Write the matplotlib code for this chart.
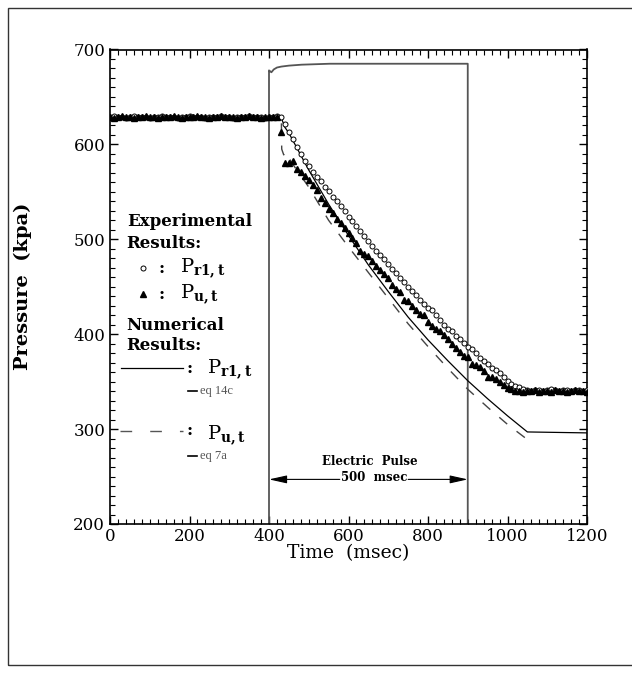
import numpy as np
import matplotlib
matplotlib.use("Agg")
import matplotlib.pyplot as plt
from matplotlib.ticker import MultipleLocator
from matplotlib.patches import Rectangle

plt.rcParams['font.family'] = ['DejaVu Serif']
plt.rcParams['mathtext.fontset'] = 'dejavuserif'

# ---------------- data ----------------
# experimental samples every 10 ms (0..1200)
t_exp = np.arange(0, 1201, 10)

p_r1_exp = ([629, 630, 629, 629, 628, 629, 630, 629, 629, 629, 628,
             629, 629, 630, 629, 629, 629, 628, 629, 629, 630, 629,
             629, 629, 628, 629, 629, 629, 630, 629, 629, 628, 629,
             629, 629, 630, 629, 629, 629, 628, 629, 629, 630, 629] +
            [622, 613, 606, 597, 590, 583, 577, 571, 566, 561, 555,
             551, 545, 540, 535, 530, 524, 519, 514, 509, 504, 498,
             493, 488, 483, 479, 474, 469, 465, 459, 455, 450, 446,
             441, 436, 432, 428, 425, 420, 415, 410, 405, 403, 398,
             395, 391, 387, 384, 380, 375, 372, 369, 364, 362, 359,
             355, 351, 348, 345, 344, 342] +
            [341, 340, 341, 341, 340, 341, 342, 341, 340, 341, 341,
             340, 341, 341, 340, 341])

p_u_exp = ([629, 628, 629, 630, 629, 629, 628, 629, 629, 630, 629,
            629, 628, 629, 629, 629, 630, 629, 628, 629, 629, 629,
            630, 629, 629, 628, 629, 629, 630, 629, 629, 629, 628,
            629, 629, 630, 629, 629, 628, 629, 629, 629, 629] +
           [613, 580, 580, 583, 574, 571, 567, 562, 557, 552, 544,
            538, 532, 528, 521, 517, 512, 507, 501, 496, 488, 485,
            482, 477, 472, 468, 463, 459, 452, 448, 444, 436, 435,
            430, 426, 421, 420, 413, 409, 405, 403, 399, 395, 390,
            385, 381, 377, 376, 369, 368, 365, 361, 355, 355, 353,
            350, 346, 343, 342, 340, 340] +
           [339, 340, 340, 341, 339, 340, 340, 339, 341, 340, 340,
            339, 340, 341, 340, 340, 339])

assert len(p_r1_exp) == len(t_exp)
assert len(p_u_exp) == len(t_exp)

# numerical results
t_r1_num = [0, 430, 440, 450, 500, 550, 600, 650, 700, 750, 800, 850,
            900, 950, 1000, 1050, 1200]
p_r1_num = [629, 629, 618, 612, 573, 537, 504, 473, 445, 418, 394, 372,
            351, 332, 314, 297, 296]

t_u_num = [0, 428, 431, 432, 437, 441, 446, 455, 500, 550, 600, 650, 700,
           750, 800, 850, 900, 950, 1000, 1050, 1052]
p_u_num = [629, 629, 629, 595, 589, 592, 591, 582, 555, 520, 492, 465,
           438, 411, 387, 364, 342, 323, 305, 289, 286]

# electric pulse trace
t_pulse = [400, 400, 403, 406, 412, 420, 431, 450, 482, 553, 900, 900]
p_pulse = [200, 678, 677, 676, 679, 681, 682, 683, 684, 685, 685, 200]

# ---------------- figure ----------------
fig = plt.figure(figsize=(6.32, 6.73), dpi=100)
ax = fig.add_axes([110/632, 1-524/673, 477/632, 474.5/673])

# outer frame
fig.patches.append(Rectangle((8/632, 1-665/673), 1.2, 657/673,
                             transform=fig.transFigure, fill=False,
                             edgecolor='#333333', lw=1.0))

ax.plot(t_pulse, p_pulse, color='#555555', lw=1.3, zorder=2)
ax.plot(t_r1_num, p_r1_num, color='black', lw=0.9, zorder=3)
ax.plot(t_u_num, p_u_num, color='#444444', lw=1.0, dashes=(7.5, 8.5), zorder=3)
ax.plot(t_exp, p_r1_exp, 'o', mfc='white', mec='black', ms=3.6, mew=0.7, zorder=4)
ax.plot(t_exp, p_u_exp, '^', color='black', ms=3.8, zorder=5)

ax.set_xlim(0, 1200)
ax.set_ylim(200, 700)
ax.xaxis.set_major_locator(MultipleLocator(200))
ax.xaxis.set_minor_locator(MultipleLocator(20))
ax.yaxis.set_major_locator(MultipleLocator(100))
ax.yaxis.set_minor_locator(MultipleLocator(10))
ax.tick_params(which='both', direction='in', top=True, right=True, labelsize=12)
ax.tick_params(axis='x', which='major', pad=3)
ax.tick_params(which='major', length=6, width=1)
ax.tick_params(which='minor', length=3.5, width=0.8)
for s in ax.spines.values():
    s.set_linewidth(1.2)

ax.set_xlabel('Time  (msec)', fontsize=13.5)
ax.xaxis.set_label_coords(0.5, -(544-524)/474.5)
ax.set_ylabel('Pressure  (kpa)', fontsize=14, fontweight='bold')
ax.yaxis.set_label_coords(-(110-32)/477, 0.5)

# ---------------- legend (manual) ----------------
lf = 12
ax.text(42, 518.5, 'Experimental', fontsize=lf, fontweight='bold', va='center', ha='left')
ax.text(42, 496, 'Results:', fontsize=lf, fontweight='bold', va='center', ha='left')
ax.plot([84], [469.5], 'o', mfc='white', mec='black', ms=3.6, mew=0.7)
ax.text(130, 469.5, ':', fontsize=lf, fontweight='bold', va='center', ha='center')
ax.text(176, 469.5, r'$\mathrm{P}_{\mathbf{r1,t}}$', fontsize=lf + 2, va='center', ha='left')
ax.plot([84], [442], '^', color='black', ms=3.8)
ax.text(130, 442, ':', fontsize=lf, fontweight='bold', va='center', ha='center')
ax.text(176, 442, r'$\mathrm{P}_{\mathbf{u,t}}$', fontsize=lf + 2, va='center', ha='left')

ax.text(42, 409.5, 'Numerical', fontsize=lf, fontweight='bold', va='center', ha='left')
ax.text(42, 388.5, 'Results:', fontsize=lf, fontweight='bold', va='center', ha='left')
ax.plot([27, 184], [364, 364], color='black', lw=0.9)
ax.text(201, 364, ':', fontsize=lf, fontweight='bold', va='center', ha='center')
ax.text(243, 363, r'$\mathrm{P}_{\mathbf{r1,t}}$', fontsize=lf + 2, va='center', ha='left')
ax.plot([196, 218], [340.5, 340.5], color='black', lw=1.2)
ax.text(226, 340.5, 'eq 14c', fontsize=9, color='#555555', va='center', ha='left',
        family='Liberation Serif')

ax.plot([25, 184], [298, 298], color='#555555', lw=1.0, dashes=(8.4, 13))
ax.text(201, 298, ':', fontsize=lf, fontweight='bold', va='center', ha='center')
ax.text(243, 294, r'$\mathrm{P}_{\mathbf{u,t}}$', fontsize=lf + 2, va='center', ha='left')
ax.plot([196, 218], [272, 272], color='black', lw=1.2)
ax.text(226, 272, 'eq 7a', fontsize=9, color='#555555', va='center', ha='left',
        family='Liberation Serif')

# ---------------- electric pulse annotation ----------------
ax.text(654, 265.5, 'Electric  Pulse', fontsize=8.5, fontweight='bold', ha='center', va='center')
ax.text(664, 249, '500  msec', fontsize=8.5, fontweight='bold', ha='center', va='center')
ap = dict(arrowstyle='-|>,head_length=0.9,head_width=0.2', lw=0.8, color='black',
          shrinkA=0, shrinkB=0, mutation_scale=12)
ax.annotate('', xy=(400, 247), xytext=(578, 247), arrowprops=ap)
ax.annotate('', xy=(900, 247), xytext=(750, 247), arrowprops=ap)

fig.savefig('out.png', dpi=100)
